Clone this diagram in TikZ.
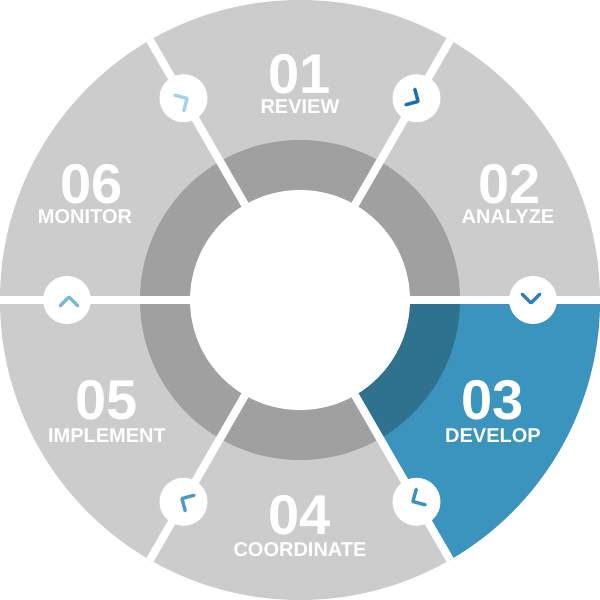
\documentclass[tikz,border=0pt]{standalone}
\usepackage{fontspec}
\setmainfont{Liberation Sans}
\begin{document}
\begin{tikzpicture}[x=1pt,y=1pt]
\definecolor{sec}{HTML}{CCCCCC}
\definecolor{ring}{HTML}{A0A0A0}
\definecolor{bsec}{HTML}{3A94BD}
\definecolor{bring}{HTML}{2E7290}
\useasboundingbox (-300,-300) rectangle (300,300);
\tikzset{num/.style={text=white,inner sep=0pt,font=\bfseries\fontsize{56}{56}\selectfont},
lab/.style={text=white,inner sep=0pt,font=\bfseries\fontsize{20}{20}\selectfont},
chev/.style={line width=3.4pt,line cap=round,line join=round},
dot/.style={circle,fill=white,minimum size=48pt,inner sep=0pt}}
\fill[sec] (0,0) circle (300);
\fill[ring] (0,0) circle (160);
\fill[bsec] (0,0) -- (0:300) arc (0:-60:300) -- cycle;
\fill[bring] (0,0) -- (0:160) arc (0:-60:160) -- cycle;
\fill[white] (0,0) circle (110);
\foreach \a in {0,60,...,300}{\draw[white,line width=8pt] (\a:110) -- (\a:300);}
\foreach \a/\c [count=\i] in {120/9FD3E6,60/1570B8,0/2A83BF,-60/3A90C0,-120/4A9CC6,180/7AB9D6}{
 \node[dot] (d\i) at (\a:233) {};
 \definecolor{cc}{HTML}{\c}
 \draw[chev,cc,shift={(d\i.center)},rotate=\a-90] (-6,7) -- (3,-2) -- (-6,-11);
}
\node[num] (n1) at (0,226) {01}; \node[lab] (l1) at (0,193) {REVIEW};
\node[num] (n2) at (210,116) {02}; \node[lab] (l2) at (208,83) {ANALYZE};
\node[num] (n3) at (193,-100) {03}; \node[lab] (l3) at (193,-136) {DEVELOP};
\node[num] (n4) at (0,-215) {04}; \node[lab] (l4) at (0,-250) {COORDINATE};
\node[num] (n5) at (-193,-100) {05}; \node[lab] (l5) at (-193,-136) {IMPLEMENT};
\node[num] (n6) at (-208,116) {06}; \node[lab] (l6) at (-215,83) {MONITOR};
\end{tikzpicture}
\end{document}
